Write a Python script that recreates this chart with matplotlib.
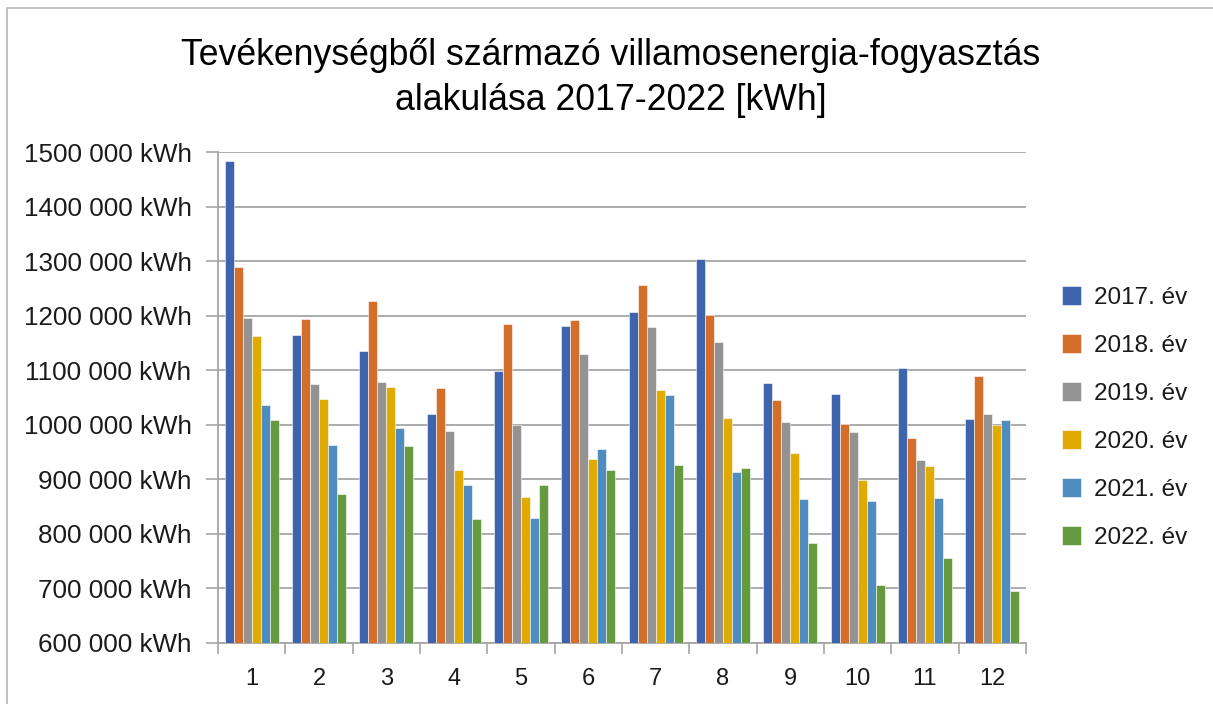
import matplotlib
matplotlib.use("Agg")
import matplotlib.pyplot as plt
import numpy as np
from matplotlib.patches import Rectangle

plt.rcParams['font.family'] = ['Liberation Sans', 'DejaVu Sans']

months = ["1", "2", "3", "4", "5", "6", "7", "8", "9", "10", "11", "12"]
series_names = ["2017. év", "2018. év", "2019. év", "2020. év", "2021. év", "2022. év"]

y2017 = [1483000, 1165000, 1135000, 1019000, 1099000, 1181000, 1206000, 1304000, 1077000, 1056000, 1104000, 1011000]
y2018 = [1290000, 1194000, 1226000, 1068000, 1184000, 1192000, 1257000, 1201000, 1046000, 1002000, 976000, 1090000]
y2019 = [1196000, 1075000, 1079000, 989000, 1000000, 1129000, 1179000, 1152000, 1005000, 986000, 935000, 1019000]
y2020 = [1163000, 1047000, 1069000, 917000, 867000, 938000, 1064000, 1012000, 949000, 899000, 925000, 1000000]
y2021 = [1036000, 963000, 995000, 889000, 829000, 955000, 1054000, 913000, 864000, 861000, 865000, 1008000]
y2022 = [1008000, 873000, 961000, 828000, 889000, 917000, 927000, 921000, 783000, 706000, 756000, 696000]

yticks = [600000, 700000, 800000, 900000, 1000000, 1100000, 1200000, 1300000, 1400000, 1500000]
ytick_labels = ["600 000 kWh", "700 000 kWh", "800 000 kWh", "900 000 kWh", "1000 000 kWh",
                "1100 000 kWh", "1200 000 kWh", "1300 000 kWh", "1400 000 kWh", "1500 000 kWh"]

colors = ["#3D64AD", "#D46E2B", "#939393", "#E1AA00", "#4F8CC0", "#659B3E"]
all_series = [y2017, y2018, y2019, y2020, y2021, y2022]

W, H = 1213, 704
fig = plt.figure(figsize=(W / 100, H / 100), dpi=100)
fig.patch.set_facecolor("white")

# chart border (left and top visible)
fig.patches.append(Rectangle((7 / W, -0.1), 1.2, (H - 8) / H + 0.1, transform=fig.transFigure,
                             fill=False, edgecolor="#B5B5B5", linewidth=1.2))

ax = fig.add_axes([218 / W, 1 - 643 / H, (1026 - 218) / W, (643 - 152) / H])

n = len(all_series)
x = np.arange(len(months))
group = 0.80
bw = group / n
for i, (vals, c, name) in enumerate(zip(all_series, colors, series_names)):
    offs = -group / 2 + bw * (i + 0.5)
    ax.bar(x + offs, vals, width=bw, color=c, edgecolor="white", linewidth=0.4,
           label=name, zorder=3)

ax.set_ylim(600000, 1500000)
ax.set_xlim(-0.5, len(months) - 0.5)
ax.set_yticks(yticks)
ax.set_yticklabels(ytick_labels, fontsize=18.7, color="#1a1a1a")
ax.yaxis.grid(True, color="#A6A6A6", linewidth=1.3, zorder=0)
ax.set_axisbelow(True)
ax.tick_params(axis="y", length=9, width=1.2, color="#A6A6A6", pad=10)

ax.set_xticks(x)
ax.set_xticklabels(months, fontsize=17, color="#1a1a1a")
ax.tick_params(axis="x", length=0, pad=18)
ax.set_xticks(np.arange(-0.5, len(months), 1.0), minor=True)
ax.tick_params(axis="x", which="minor", length=8, width=1.2, color="#A6A6A6")

for s in ["top", "right"]:
    ax.spines[s].set_visible(False)
for s in ["left", "bottom"]:
    ax.spines[s].set_color("#A6A6A6")
    ax.spines[s].set_linewidth(1.3)

fig.text(611 / W, 1 - 78 / H,
         "Tevékenységből származó villamosenergia-fogyasztás\nalakulása 2017-2022 [kWh]",
         ha="center", va="center", fontsize=25.7, color="black", linespacing=1.35)

leg = ax.legend(loc="upper left", bbox_to_anchor=(1062 / W, 1 - 286 / H),
                bbox_transform=fig.transFigure, frameon=False, fontsize=17.5,
                handlelength=0.8, handleheight=0.8, handletextpad=0.5,
                labelspacing=1.04, borderaxespad=0, borderpad=0)
for t in leg.get_texts():
    t.set_color("#1a1a1a")

fig.savefig("out.png", dpi=100, facecolor="white")
